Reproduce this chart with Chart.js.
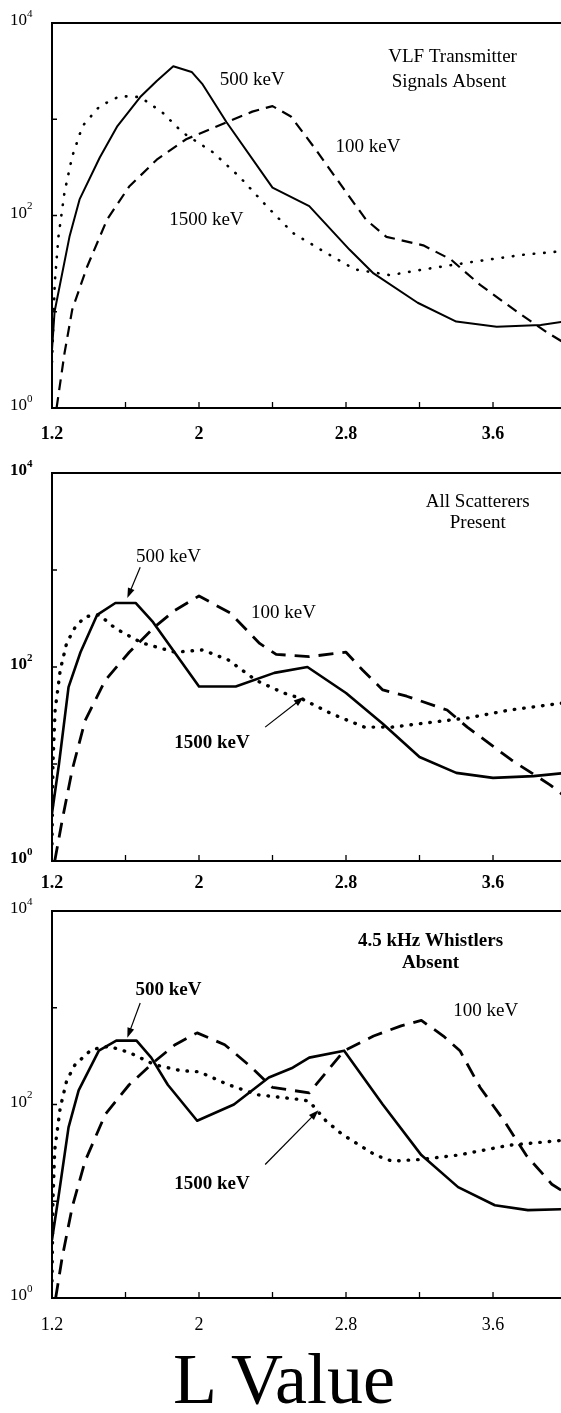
<!DOCTYPE html>
<html>
<head>
<meta charset="utf-8">
<script src="https://cdn.jsdelivr.net/npm/chart.js@4/dist/chart.umd.min.js"></script>
<style>
  body { margin: 0; background: #fff; width: 561px; height: 1413px; position: relative; overflow: hidden; }
  canvas { position: absolute; left: 0; }
  #xtitle {
    position: absolute; left: 284px; top: 1343px; transform: translateX(-50%); white-space: nowrap;
    font: 72px "Liberation Serif", "Times New Roman", serif; line-height: 72px; color: #000;
  }
</style>
</head>
<body>
<canvas id="vlf" width="561" height="453" style="top:0px"></canvas>
<canvas id="all" width="561" height="466" style="top:440px"></canvas>
<canvas id="whistler" width="561" height="463" style="top:880px"></canvas>
<div id="xtitle">L Value</div>
<script>
// axis ticks
const lTicks = [1.2, 1.6, 2.0, 2.4, 2.8, 3.2, 3.6];
const lTickLabels = ['1.2', '', '2', '', '2.8', '', '3.6'];
const fluxTicks = [1, 10, 100, 1000, 10000];
const fluxTickExp = ['0', '', '2', '', '4'];

// [L, flux] — VLF transmitter signals absent
const vlf100 = [[1.225, 1], [1.268, 3.7], [1.31, 10.5], [1.39, 29], [1.5, 91], [1.62, 200], [1.77, 380], [1.93, 620],
  [2.15, 930], [2.29, 1200], [2.4, 1370], [2.5, 1070], [2.63, 500], [2.82, 155], [2.91, 90], [3.02, 60], [3.22, 49],
  [3.37, 35], [3.53, 19], [3.74, 9.7], [3.9, 6], [4.0, 4.6]];
const vlf500 = [[1.2, 4], [1.214, 10], [1.295, 60], [1.35, 147], [1.46, 400], [1.556, 850], [1.68, 1700], [1.77, 2500],
  [1.86, 3550], [1.96, 3100], [2.02, 2300], [2.15, 930], [2.4, 195], [2.6, 125], [2.82, 44], [2.95, 25], [3.19, 12.4],
  [3.4, 7.9], [3.62, 7.0], [3.86, 7.3], [4.0, 8]];
const vlf1500 = [[1.2, 3], [1.215, 20], [1.235, 60], [1.268, 174], [1.31, 410], [1.366, 850], [1.46, 1370], [1.57, 1740],
  [1.68, 1700], [1.8, 1180], [1.91, 730], [2.075, 455], [2.22, 253], [2.37, 124], [2.51, 66], [2.69, 41], [2.85, 27.5],
  [3.04, 24], [3.22, 27.5], [3.49, 33], [3.76, 39], [4.0, 43]];

// all scatterers present
const all100 = [[1.215, 1], [1.255, 2.6], [1.31, 8.7], [1.38, 28], [1.49, 73], [1.62, 142], [1.76, 260], [1.87, 385],
  [2.0, 540], [2.17, 360], [2.33, 175], [2.42, 135], [2.6, 128], [2.8, 142], [2.89, 93], [3.0, 58], [3.13, 50],
  [3.35, 36], [3.46, 24], [3.7, 11], [3.91, 6.1], [4.0, 4.5]];
const all500 = [[1.2, 3.1], [1.238, 10], [1.29, 62], [1.355, 142], [1.446, 345], [1.545, 457], [1.655, 457], [1.75, 290],
  [2.0, 63], [2.2, 63], [2.41, 87], [2.59, 100], [2.8, 54], [3.0, 26], [3.2, 11.8], [3.4, 8.1], [3.6, 7.2], [3.82, 7.5],
  [4.0, 8.1]];
const all1500 = [[1.2, 1.5], [1.205, 10], [1.217, 36], [1.245, 93], [1.28, 177], [1.326, 257], [1.38, 330], [1.457, 345],
  [1.545, 250], [1.69, 177], [1.87, 142], [2.02, 150], [2.16, 118], [2.31, 73], [2.46, 54], [2.56, 47], [2.72, 33],
  [2.9, 24], [3.05, 24], [3.27, 27], [3.47, 30], [3.69, 36], [4.0, 43]];

// 4.5 kHz whistlers absent
const wh100 = [[1.22, 1], [1.255, 2.6], [1.31, 8.7], [1.38, 26], [1.49, 79], [1.62, 160], [1.76, 280], [1.87, 415],
  [1.99, 550], [2.14, 415], [2.27, 257], [2.4, 150], [2.6, 132], [2.79, 360], [2.95, 510], [3.1, 650], [3.21, 740],
  [3.33, 510], [3.42, 360], [3.53, 150], [3.66, 68], [3.78, 30], [3.92, 15], [4.0, 12]];
const wh500 = [[1.2, 4], [1.235, 11], [1.29, 58], [1.345, 140], [1.455, 360], [1.55, 457], [1.66, 457], [1.74, 305],
  [1.83, 160], [1.99, 68], [2.19, 100], [2.38, 190], [2.51, 240], [2.6, 305], [2.79, 360], [3.0, 100], [3.21, 30],
  [3.41, 14], [3.61, 9.1], [3.79, 8.1], [4.0, 8.3]];
const wh1500 = [[1.2, 1.5], [1.205, 10], [1.215, 34], [1.245, 93], [1.28, 177], [1.325, 257], [1.415, 370], [1.51, 400],
  [1.62, 345], [1.76, 257], [1.9, 224], [2.0, 218], [2.16, 160], [2.32, 126], [2.56, 112], [2.6, 108], [2.69, 68],
  [2.78, 49], [2.96, 30], [3.05, 26], [3.2, 27], [3.41, 30], [3.69, 38], [4.0, 43]];

const SERIF = '"Liberation Serif", "Times New Roman", serif';

function curve(points, kind, heavy) {
  const ds = {
    data: points.map(([l, f]) => ({ x: l, y: f })),
    borderColor: '#000',
    pointRadius: 0,
    tension: 0,
    fill: false,
    borderJoinStyle: 'round',
    borderWidth: heavy ? 2.6 : 2
  };
  if (kind === 'dash') {
    ds.borderDash = heavy ? [15, 9] : [11, 7];
    ds.borderWidth = heavy ? 2.8 : 2.2;
  } else if (kind === 'dot') {
    ds.borderDash = heavy ? [0.5, 9] : [0.5, 10];
    ds.borderCapStyle = 'round';
    ds.borderWidth = heavy ? 3.4 : 2.6;
  }
  return ds;
}

// frame, inward tick marks, y labels with exponents, text notes and arrows
function framePlugin(cfg) {
  return {
    id: 'frame',
    afterDraw(chart) {
      const { ctx, chartArea: a, scales: { x, y } } = chart;
      ctx.save();
      ctx.strokeStyle = '#000';
      ctx.fillStyle = '#000';
      ctx.lineWidth = 2;
      ctx.beginPath();
      ctx.moveTo(a.left, a.top);
      ctx.lineTo(a.right, a.top);
      ctx.stroke();

      ctx.lineWidth = 1.3;
      ctx.beginPath();
      lTicks.forEach(v => {
        const px = x.getPixelForValue(v);
        ctx.moveTo(px, a.bottom);
        ctx.lineTo(px, a.bottom - 6);
      });
      fluxTicks.forEach(v => {
        const py = y.getPixelForValue(v);
        ctx.moveTo(a.left, py);
        ctx.lineTo(a.left + 5, py);
      });
      ctx.stroke();

      fluxTicks.forEach((v, i) => {
        if (!fluxTickExp[i]) return;
        const py = y.getPixelForValue(v);
        ctx.textBaseline = 'middle';
        ctx.textAlign = 'left';
        ctx.font = cfg.yWeight + ' 17px ' + SERIF;
        ctx.fillText('10', 10, py - 2);
        const w = ctx.measureText('10').width;
        ctx.font = cfg.yWeight + ' 11px ' + SERIF;
        ctx.fillText(fluxTickExp[i], 10 + w, py - 9);
      });

      ctx.textAlign = 'center';
      ctx.textBaseline = 'middle';
      cfg.notes.forEach(n => {
        ctx.font = (n.bold ? 'bold ' : '') + '19px ' + SERIF;
        ctx.fillText(n.text, x.getPixelForValue(n.L), y.getPixelForValue(n.flux));
      });

      ctx.lineWidth = 1.2;
      cfg.arrows.forEach(([from, to]) => {
        const x0 = x.getPixelForValue(from[0]), y0 = y.getPixelForValue(from[1]);
        const x1 = x.getPixelForValue(to[0]), y1 = y.getPixelForValue(to[1]);
        const ang = Math.atan2(y1 - y0, x1 - x0);
        ctx.beginPath();
        ctx.moveTo(x0, y0);
        ctx.lineTo(x1 - 6 * Math.cos(ang), y1 - 6 * Math.sin(ang));
        ctx.stroke();
        ctx.beginPath();
        ctx.moveTo(x1, y1);
        ctx.lineTo(x1 - 10 * Math.cos(ang) + 3.5 * Math.sin(ang), y1 - 10 * Math.sin(ang) - 3.5 * Math.cos(ang));
        ctx.lineTo(x1 - 10 * Math.cos(ang) - 3.5 * Math.sin(ang), y1 - 10 * Math.sin(ang) + 3.5 * Math.cos(ang));
        ctx.closePath();
        ctx.fill();
      });
      ctx.restore();
    }
  };
}

function makePanel(id, series, cfg) {
  new Chart(document.getElementById(id), {
    type: 'line',
    data: {
      datasets: [
        curve(series[0], 'dash', cfg.heavy),
        curve(series[1], 'solid', cfg.heavy),
        curve(series[2], 'dot', cfg.heavy)
      ]
    },
    options: {
      responsive: false,
      animation: false,
      events: [],
      layout: { padding: { top: cfg.top, right: 0, left: 0, bottom: 0 } },
      plugins: { legend: { display: false }, tooltip: { enabled: false } },
      scales: {
        x: {
          type: 'linear',
          min: 1.2,
          max: 3.97,
          afterBuildTicks: s => { s.ticks = lTicks.map(v => ({ value: v })); },
          afterFit: s => { s.height = 45; },
          grid: { display: true, drawOnChartArea: false, drawTicks: false },
          border: { display: true, color: '#000', width: 2 },
          ticks: {
            autoSkip: false,
            maxRotation: 0,
            padding: cfg.xPad,
            color: '#000',
            font: { family: SERIF, size: 18, weight: cfg.xWeight },
            callback: (v, i) => lTickLabels[i]
          }
        },
        y: {
          type: 'logarithmic',
          min: 1,
          max: 10000,
          afterBuildTicks: s => { s.ticks = fluxTicks.map(v => ({ value: v })); },
          afterFit: s => { s.width = 52; },
          grid: { display: false },
          border: { display: true, color: '#000', width: 2 },
          ticks: { display: false }
        }
      }
    },
    plugins: [framePlugin(cfg)]
  });
}

makePanel('vlf', [vlf100, vlf500, vlf1500], {
  top: 23, xPad: 16, xWeight: 'bold', yWeight: 'normal', heavy: false,
  notes: [
    { text: '500 keV', L: 2.29, flux: 2570 },
    { text: '100 keV', L: 2.92, flux: 515 },
    { text: '1500 keV', L: 2.04, flux: 89 },
    { text: 'VLF Transmitter', L: 3.38, flux: 4470 },
    { text: 'Signals Absent', L: 3.36, flux: 2450 }
  ],
  arrows: []
});

makePanel('all', [all100, all500, all1500], {
  top: 33, xPad: 12, xWeight: 'bold', yWeight: 'bold', heavy: true,
  notes: [
    { text: '500 keV', L: 1.834, flux: 1360 },
    { text: '100 keV', L: 2.46, flux: 360 },
    { text: '1500 keV', L: 2.07, flux: 16.5, bold: true },
    { text: 'All Scatterers', L: 3.517, flux: 5000 },
    { text: 'Present', L: 3.517, flux: 3020 }
  ],
  arrows: [[[1.68, 1070], [1.61, 515]], [[2.36, 24], [2.57, 49]]]
});

makePanel('whistler', [wh100, wh500, wh1500], {
  top: 31, xPad: 16, xWeight: 'normal', yWeight: 'normal', heavy: true,
  notes: [
    { text: '500 keV', L: 1.834, flux: 1540, bold: true },
    { text: '100 keV', L: 3.56, flux: 930 },
    { text: '1500 keV', L: 2.07, flux: 15, bold: true },
    { text: '4.5 kHz Whistlers', L: 3.26, flux: 4900, bold: true },
    { text: 'Absent', L: 3.26, flux: 2900, bold: true }
  ],
  arrows: [[[1.68, 1120], [1.61, 490]], [[2.36, 24], [2.65, 87]]]
});
</script>
</body>
</html>
